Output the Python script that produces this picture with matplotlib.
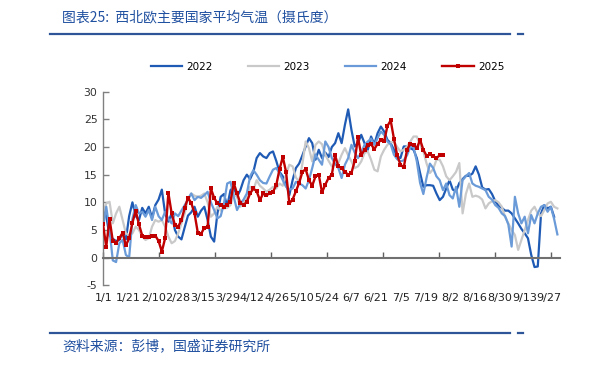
import matplotlib
matplotlib.use('Agg')
import matplotlib.pyplot as plt
import numpy as np
from matplotlib.lines import Line2D

plt.rcParams['font.family'] = ['DejaVu Sans']

title_text = '图表25:  西北欧主要国家平均气温（摄氏度）'
source_text = '资料来源：彭博，国盛证券研究所'

series_names = ['2022', '2023', '2024', '2025']

t2022 = [9.2, 7.5, 4.0, 3.4, 3.0, 3.2, 4.4, 3.3, 7.5, 10.0,
         7.5, 6.8, 9.0, 8.0, 9.2, 7.2, 9.5, 10.5, 12.3, 8.0,
         6.5, 8.0, 5.0, 3.8, 3.3, 5.5, 7.6, 8.2, 9.2, 7.4,
         8.5, 9.2, 6.8, 3.8, 2.9, 8.0, 11.0, 11.5, 9.3, 12.2,
         12.8, 11.0, 12.2, 14.0, 15.0, 14.2, 15.5, 18.0, 18.9, 18.3,
         18.0, 18.9, 19.2, 17.5, 15.5, 14.7, 13.5, 11.3, 14.0, 16.2,
         17.0, 18.5, 20.1, 21.6, 20.7, 17.7, 19.5, 18.0, 19.0, 18.2,
         20.0, 20.7, 22.5, 20.7, 24.0, 26.8, 23.1, 20.1, 20.7, 22.2,
         20.7, 19.5, 21.9, 20.5, 22.5, 23.7, 22.8, 21.3, 20.7, 19.5,
         18.3, 18.0, 20.1, 20.1, 19.8, 19.5, 18.0, 15.3, 12.8, 13.1,
         13.1, 13.0, 11.6, 10.4, 11.0, 12.5, 14.0, 12.3, 12.0, 13.5,
         14.2, 14.8, 14.8, 15.2, 16.5, 15.0, 12.7, 12.3, 12.4, 11.5,
         10.2, 9.4, 9.0, 8.5, 8.5, 8.0, 7.1, 6.2, 5.2, 4.4,
         3.5, 0.5, -1.7, -1.6, 8.0, 9.5, 8.9, 9.2, 7.4]

t2023 = [8.0, 9.8, 10.1, 6.2, 8.0, 9.2, 6.8, 4.4, 4.0, 4.4,
         5.6, 5.0, 3.8, 3.2, 3.5, 5.6, 6.8, 6.5, 6.8, 5.6,
         3.8, 2.6, 3.0, 4.4, 6.2, 8.0, 10.7, 11.6, 11.2, 11.0,
         11.2, 11.6, 10.0, 7.4, 8.0, 9.2, 8.5, 8.9, 9.0, 9.5,
         11.6, 11.0, 9.2, 10.0, 10.7, 12.8, 12.2, 14.0, 13.0, 12.5,
         11.9, 12.3, 12.8, 12.5, 13.4, 13.0, 15.0, 16.8, 16.5, 14.5,
         13.7, 17.0, 21.0, 19.8, 17.4, 20.4, 21.0, 20.5, 18.6, 17.5,
         16.5, 16.8, 17.1, 18.6, 19.8, 18.5, 17.4, 16.2, 16.5, 17.4,
         18.9, 19.2, 17.7, 15.9, 15.6, 18.3, 19.5, 20.4, 20.8, 21.0,
         20.0, 19.2, 19.5, 20.1, 21.0, 21.9, 21.9, 20.4, 19.2, 17.0,
         15.3, 16.0, 17.7, 17.7, 16.5, 14.7, 14.0, 14.7, 15.5, 17.1,
         8.0, 11.5, 13.4, 11.0, 11.2, 11.0, 10.5, 8.9, 9.8, 10.2,
         10.4, 10.0, 9.2, 7.4, 6.2, 5.0, 4.1, 1.4, 3.2, 5.0,
         6.8, 8.5, 9.2, 8.0, 7.5, 8.6, 9.8, 10.1, 9.2, 8.9]

t2024 = [5.6, 9.2, 5.0, -0.5, -0.8, 2.6, 3.2, 0.5, 0.0, 7.0,
         9.5, 8.0, 8.3, 7.4, 8.6, 6.8, 9.2, 7.5, 6.8, 8.3,
         7.0, 6.2, 8.0, 7.5, 8.5, 9.5, 10.5, 11.6, 10.4, 11.0,
         10.8, 11.3, 11.9, 10.0, 8.6, 7.1, 7.5, 9.8, 13.4, 13.7,
         11.0, 8.6, 9.8, 10.5, 11.6, 14.7, 15.8, 15.0, 14.0, 13.5,
         13.4, 14.7, 15.9, 16.2, 15.3, 14.0, 12.8, 12.3, 12.5, 13.7,
         13.4, 13.1, 12.5, 14.0, 16.2, 18.6, 17.7, 16.8, 21.0, 20.0,
         18.0, 17.0, 16.2, 14.4, 16.8, 18.0, 20.4, 19.0, 18.0, 19.0,
         20.4, 21.0, 21.5, 20.4, 21.6, 22.8, 22.2, 21.0, 20.5, 18.6,
         17.8, 17.4, 17.6, 18.5, 20.0, 20.0, 17.4, 13.5, 11.5, 14.5,
         17.0, 16.2, 14.7, 14.0, 12.2, 13.4, 11.3, 10.7, 12.8, 9.2,
         14.0, 14.7, 15.3, 13.4, 13.0, 12.8, 12.5, 12.2, 11.0, 10.5,
         9.5, 9.0, 8.0, 7.5, 6.0, 2.0, 11.0, 8.0, 6.2, 7.4,
         4.4, 7.7, 6.2, 8.0, 9.2, 9.5, 8.3, 9.2, 7.0, 4.2]

t2025 = [6.0, 2.0, 7.0, 3.0, 2.7, 3.5, 4.5, 2.2, 3.5, 6.3,
         8.5, 6.0, 4.0, 3.7, 3.8, 4.0, 4.0, 3.0, 1.1, 3.5,
         11.7, 8.0, 5.9, 5.6, 6.8, 9.0, 10.8, 9.9, 8.0, 4.5,
         4.3, 5.4, 5.6, 12.5, 10.8, 9.8, 9.5, 9.2, 9.6, 10.1,
         13.5, 11.6, 9.9, 9.5, 10.1, 11.6, 12.5, 12.0, 10.4, 11.6,
         11.3, 11.6, 11.9, 13.1, 16.0, 18.2, 15.5, 9.8, 10.5, 12.0,
         13.5, 15.5, 16.0, 14.0, 13.0, 14.7, 15.0, 11.8, 13.2, 14.4,
         15.0, 18.5, 16.5, 16.2, 15.5, 15.0, 15.3, 17.5, 21.8, 18.5,
         19.5, 20.3, 20.5, 19.6, 20.6, 21.3, 21.0, 23.8, 24.8, 21.5,
         18.5, 16.8, 16.3, 19.5, 20.6, 20.4, 19.8, 21.3, 19.5, 18.4,
         18.7, 18.3, 18.0, 18.5, 18.6]

x_labels = ['1/1', '1/21', '2/10', '2/28', '3/15', '3/29', '4/12', '4/26', '5/10',
            '5/24', '6/7', '6/21', '7/5', '7/19', '8/2', '8/16', '8/30', '9/13', '9/27']
y_ticks = [-5, 0, 5, 10, 15, 20, 25, 30]

W, H = 594, 365
fig = plt.figure(figsize=(W / 100, H / 100), dpi=100)
ax_l, ax_r, ax_t, ax_b = 103, 560, 91.7, 285.3
ax = fig.add_axes([ax_l / W, 1 - ax_b / H, (ax_r - ax_l) / W, (ax_b - ax_t) / H])

colors = ['#1F5BB5', '#C9C9C9', '#6A9BD8', '#C00000']
data = [t2022, t2023, t2024, t2025]
for name, vals, c in zip(series_names, data, colors):
    xs = np.arange(len(vals))
    if name == '2025':
        ax.plot(xs, vals, color=c, lw=1.7, marker='s', markersize=3.4,
                markeredgewidth=0, label=name, zorder=5)
    else:
        ax.plot(xs, vals, color=c, lw=1.6, label=name)

ax.set_xlim(0, 139.8)
ax.set_ylim(-5, 30)
ax.set_yticks(y_ticks)
ax.set_yticklabels([str(v) for v in y_ticks])
ax.tick_params(axis='y', direction='in', length=4, width=1, color='#808080',
               labelsize=7.8, labelcolor='#333333', pad=4)

major = np.arange(0, 139.8, 17.125)
ax.set_xticks(major)
ax.set_xticklabels([''] * len(major))
ax.tick_params(axis='x', direction='in', length=4, width=1, color='#606060')

ax.spines['top'].set_visible(False)
ax.spines['right'].set_visible(False)
ax.spines['bottom'].set_position(('data', 0))
ax.spines['bottom'].set_color('#707070')
ax.spines['bottom'].set_linewidth(1.5)
ax.spines['left'].set_color('#808080')
ax.spines['left'].set_linewidth(1.0)

label_pos = np.linspace(0.3, 136.5, len(x_labels))
for p, lbl in zip(label_pos, x_labels):
    ax.text(p, -0.066, lbl, transform=ax.get_xaxis_transform(), ha='center',
            va='center', fontsize=8.0, color='#222222')

fig.legend(loc='center', bbox_to_anchor=(327.5 / W, 1 - 67 / H), ncol=4,
           frameon=False, fontsize=7.5, handlelength=3.0, handletextpad=0.4,
           columnspacing=3.4)

blue = '#2E5597'
fig.text(62 / W, 1 - 17 / H, title_text, fontsize=10, color='#2050A0',
         family=['Noto Sans CJK SC', 'DejaVu Sans'], va='center', ha='left')
fig.add_artist(Line2D([50 / W, 510 / W], [1 - 34.3 / H] * 2, color=blue, lw=1.6))
fig.add_artist(Line2D([518 / W, 523 / W], [1 - 34.3 / H] * 2, color=blue, lw=1.6))
fig.add_artist(Line2D([50 / W, 510 / W], [1 - 332.7 / H] * 2, color=blue, lw=1.6))
fig.add_artist(Line2D([518 / W, 523 / W], [1 - 332.7 / H] * 2, color=blue, lw=1.6))
fig.text(62 / W, 1 - 346 / H, source_text, fontsize=10, color='#2050A0',
         family=['Noto Sans CJK SC', 'DejaVu Sans'], va='center', ha='left')

fig.savefig('out.png', dpi=100)
